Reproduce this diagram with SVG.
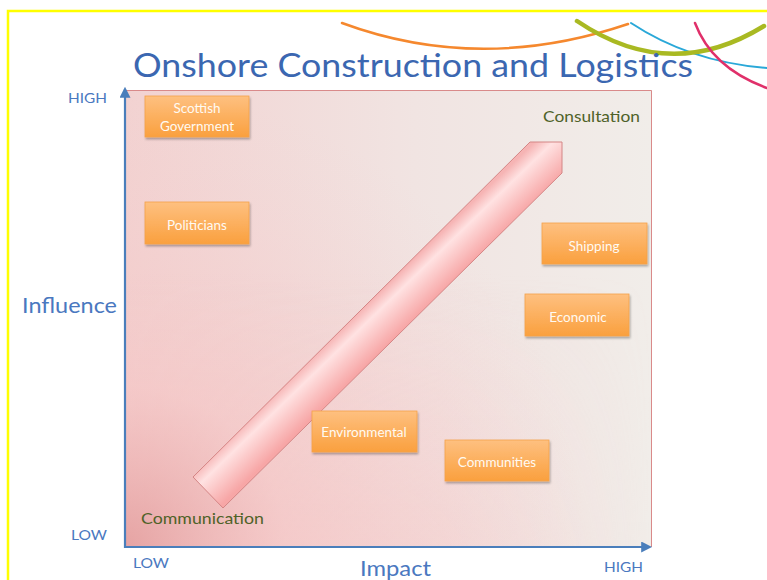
<svg xmlns="http://www.w3.org/2000/svg" width="767" height="580" viewBox="0 0 767 580">
  <defs>
    <linearGradient id="plotBase" x1="0" y1="0" x2="1" y2="0">
      <stop offset="0" stop-color="#f2d2d1"/>
      <stop offset="0.55" stop-color="#f1e4e2"/>
      <stop offset="1" stop-color="#f1ede9"/>
    </linearGradient>
    <linearGradient id="plotLower" x1="0" y1="0" x2="0" y2="1">
      <stop offset="0.4" stop-color="#f7c6c6" stop-opacity="0"/>
      <stop offset="1" stop-color="#f7c6c6" stop-opacity="0.55"/>
    </linearGradient>
    <linearGradient id="plotFade" x1="0" y1="0" x2="1" y2="0">
      <stop offset="0" stop-color="#fff" stop-opacity="1"/>
      <stop offset="0.6" stop-color="#fff" stop-opacity="0.7"/>
      <stop offset="1" stop-color="#fff" stop-opacity="0"/>
    </linearGradient>
    <mask id="lowerMask">
      <rect x="125" y="90" width="527" height="457" fill="url(#plotFade)"/>
    </mask>
    <radialGradient id="plotGlow" gradientUnits="userSpaceOnUse" cx="125" cy="547" r="460">
      <stop offset="0" stop-color="#e39c9c" stop-opacity="0.85"/>
      <stop offset="0.35" stop-color="#f5c4c4" stop-opacity="0.55"/>
      <stop offset="1" stop-color="#f5d0d0" stop-opacity="0"/>
    </radialGradient>
    <linearGradient id="boxFill" x1="0" y1="0" x2="0" y2="1">
      <stop offset="0" stop-color="#fec080"/>
      <stop offset="1" stop-color="#faa03e"/>
    </linearGradient>
    <linearGradient id="bandFill" gradientUnits="userSpaceOnUse" x1="361" y1="310" x2="391" y2="341">
      <stop offset="0" stop-color="#f6b4b4"/>
      <stop offset="0.3" stop-color="#ffe2e2"/>
      <stop offset="1" stop-color="#f7a6a6"/>
    </linearGradient>
    <filter id="shadow" x="-10%" y="-10%" width="125%" height="135%">
      <feDropShadow dx="1" dy="2" stdDeviation="1.2" flood-color="#000" flood-opacity="0.3"/>
    </filter>
    <marker id="axisHead" viewBox="0 0 10 10" refX="8" refY="5" markerWidth="5" markerHeight="5" orient="auto">
      <path d="M0,0 L10,5 L0,10 z" fill="#4a7ebb"/>
    </marker>
    <style>
      .box { fill: url(#boxFill); stroke: #f4a24a; stroke-width: 0.8; filter: url(#shadow); }
      .boxText { font-family: Lato, "Open Sans", sans-serif; font-size: 13.5px; fill: #fffaf2; text-anchor: middle; }
      .axisText { font-family: Lato, "Open Sans", sans-serif; fill: #4a78c0; }
      .zoneText { font-family: Lato, "Open Sans", sans-serif; font-size: 16px; fill: #4f6228; }
      .axis { stroke: #4a7ebb; stroke-width: 2.2; fill: none; marker-end: url(#axisHead); }
      .swoosh { fill: none; stroke-linecap: round; }
    </style>
  </defs>

  <rect width="767" height="580" fill="#ffffff"/>

  <!-- slide frame -->
  <path d="M8,580 L8,11 L767,11" fill="none" stroke="#ffff00" stroke-width="2.5"/>

  <!-- decorative swooshes -->
  <g id="swooshes">
    <path class="swoosh" d="M342,23 Q480,74 628,24" stroke="#f5882e" stroke-width="2.5"/>
    <path class="swoosh" d="M631,23 Q690,62 767,68" stroke="#2aa8d8" stroke-width="2"/>
    <path class="swoosh" d="M577,21 Q670,84 764,26" stroke="#a9b922" stroke-width="4.5"/>
    <path class="swoosh" d="M695,23 Q712,68 767,88" stroke="#e0306a" stroke-width="2.5"/>
  </g>

  <!-- title -->
  <text x="133" y="77" font-family="Lato, 'Open Sans', sans-serif" font-size="33" fill="#3b67b1" textLength="560" lengthAdjust="spacingAndGlyphs">Onshore Construction and Logistics</text>

  <!-- plot area -->
  <g id="plot">
    <rect x="125" y="90" width="527" height="457" fill="url(#plotBase)"/>
    <rect x="125" y="90" width="527" height="457" fill="url(#plotLower)" mask="url(#lowerMask)"/>
    <rect x="125" y="90" width="527" height="457" fill="url(#plotGlow)"/>
    <path d="M125,90.5 L651.5,90.5 L651.5,547" fill="none" stroke="#d98a8a" stroke-width="1"/>
  </g>

  <!-- diagonal engagement band -->
  <g id="band">
    <polygon points="193,477 530,142 562,142 562,173 223,508" fill="url(#bandFill)" stroke="#d48686" stroke-width="1"/>
  </g>

  <g id="connectors">
    <line class="axis" x1="125" y1="548" x2="125" y2="89"/>
    <line class="axis" x1="124" y1="547" x2="650" y2="547"/>
  </g>

  <!-- axis labels -->
  <g id="axis-labels">
    <text class="axisText" x="68" y="103" font-size="14" textLength="39" lengthAdjust="spacingAndGlyphs">HIGH</text>
    <text class="axisText" x="71" y="540" font-size="14" textLength="36" lengthAdjust="spacingAndGlyphs">LOW</text>
    <text class="axisText" x="133" y="568" font-size="14" textLength="36" lengthAdjust="spacingAndGlyphs">LOW</text>
    <text class="axisText" x="604" y="572" font-size="14" textLength="39" lengthAdjust="spacingAndGlyphs">HIGH</text>
    <text class="axisText" x="22" y="313" font-size="21" textLength="95" lengthAdjust="spacingAndGlyphs">Influence</text>
    <text class="axisText" x="360" y="576" font-size="21" textLength="71" lengthAdjust="spacingAndGlyphs">Impact</text>
  </g>

  <!-- zone labels -->
  <text class="zoneText" x="543" y="122" textLength="97" lengthAdjust="spacingAndGlyphs">Consultation</text>
  <text class="zoneText" x="141" y="524" textLength="123" lengthAdjust="spacingAndGlyphs">Communication</text>

  <!-- stakeholders -->
  <g id="scottish-government">
    <rect class="box" x="145" y="96" width="104" height="41"/>
    <text class="boxText" x="197" y="113">Scottish</text>
    <text class="boxText" x="197" y="131">Government</text>
  </g>
  <g id="politicians">
    <rect class="box" x="145" y="202" width="104" height="42"/>
    <text class="boxText" x="197" y="230">Politicians</text>
  </g>
  <g id="shipping">
    <rect class="box" x="542" y="223" width="105" height="41"/>
    <text class="boxText" x="594" y="251">Shipping</text>
  </g>
  <g id="economic">
    <rect class="box" x="525" y="294" width="104" height="42"/>
    <text class="boxText" x="578" y="322">Economic</text>
  </g>
  <g id="environmental">
    <rect class="box" x="312" y="411" width="105" height="41"/>
    <text class="boxText" x="364" y="437">Environmental</text>
  </g>
  <g id="communities">
    <rect class="box" x="445" y="440" width="104" height="41"/>
    <text class="boxText" x="497" y="467">Communities</text>
  </g>
</svg>
